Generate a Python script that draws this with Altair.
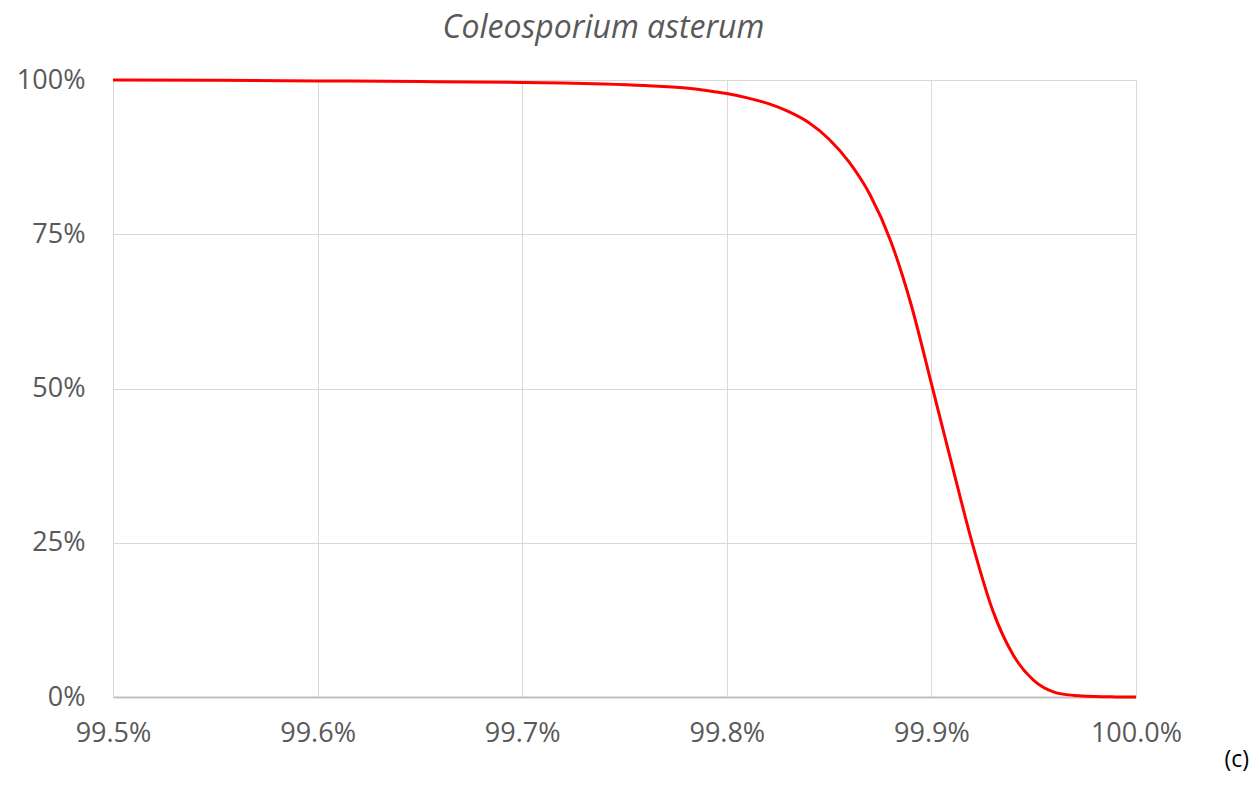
import altair as alt
import pandas as pd

# Curve (x = identity fraction, y = fraction remaining)
xs = [0.99500, 0.99550, 0.99600, 0.99650, 0.99700, 0.99720, 0.99740, 0.99760,
      0.99780, 0.99790, 0.99800, 0.99810, 0.99820, 0.99830, 0.99840, 0.99850,
      0.99860, 0.99870, 0.99880, 0.99890, 0.99900, 0.99910, 0.99920, 0.99930,
      0.99940, 0.99950, 0.99960, 0.99970, 0.99980, 0.99990, 1.00000]
ys = [1.0000, 0.9995, 0.9985, 0.9975, 0.9960, 0.9950, 0.9935, 0.9910,
      0.9870, 0.9830, 0.9780, 0.9710, 0.9620, 0.9490, 0.9310, 0.9040,
      0.8660, 0.8140, 0.7400, 0.6370, 0.5080, 0.3770, 0.2490, 0.1400,
      0.0680, 0.0270, 0.0080, 0.0025, 0.0007, 0.0002, 0.0000]

x_ticks = [0.995, 0.996, 0.997, 0.998, 0.999, 1.0]
y_ticks = [0, 0.25, 0.5, 0.75, 1.0]

df = pd.DataFrame({"x": xs, "y": ys})

FONT = "Open Sans"
GREY = "#595959"

line = alt.Chart(df).mark_line(color="#FF0000", strokeWidth=3, interpolate="monotone").encode(
    x=alt.X("x:Q",
            scale=alt.Scale(domain=[0.995, 1.0], nice=False, zero=False),
            axis=alt.Axis(title=None, values=x_ticks, format=".1%", grid=True,
                          gridColor="#D9D9D9", gridWidth=1, ticks=False,
                          domain=True, domainColor="#BFBFBF", domainWidth=2,
                          labelFont=FONT, labelFontSize=27, labelColor=GREY,
                          labelPadding=23, labelFlush=False)),
    y=alt.Y("y:Q",
            scale=alt.Scale(domain=[0, 1], nice=False),
            axis=alt.Axis(title=None, values=y_ticks, format=".0%", grid=True,
                          gridColor="#D9D9D9", gridWidth=1, ticks=False,
                          domain=False, labelFont=FONT, labelFontSize=27,
                          labelColor=GREY, labelPadding=28)),
)

label = alt.Chart(pd.DataFrame({"t": ["(c)"]})).mark_text(
    font=FONT, fontSize=23, color="#000000", align="right", baseline="middle"
).encode(x=alt.value(1136), y=alt.value(680), text="t:N")

chart = alt.layer(line, label).properties(
    width=1023, height=617,
    title=alt.TitleParams("Coleosporium asterum", font=FONT, fontSize=32,
                          fontStyle="italic", fontWeight="normal", color=GREY,
                          anchor="middle", dx=-21, offset=21),
    autosize=alt.AutoSizeParams(type="none"),
    padding={"left": 105, "top": 72, "right": 114, "bottom": 80},
).configure_view(stroke=None)

chart.save("out.html", embed_options={"renderer": "svg", "actions": False})
